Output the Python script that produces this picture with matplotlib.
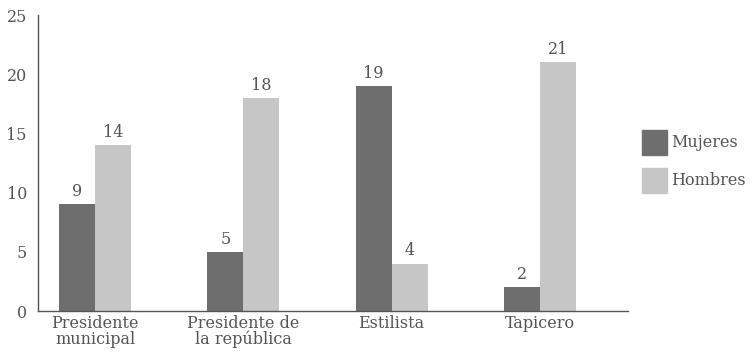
import matplotlib.pyplot as plt
from matplotlib.patches import Rectangle
import numpy as np

categories = ["Presidente\nmunicipal", "Presidente de\nla república", "Estilista", "Tapicero"]
mujeres = [9, 5, 19, 2]
hombres = [14, 18, 4, 21]
series_names = ["Mujeres", "Hombres"]
y_ticks = [0, 5, 10, 15, 20, 25]

DARK = "#6e6e6e"
LIGHT = "#c6c6c6"
TEXT = "#555555"

plt.rcParams["font.family"] = ["DejaVu Serif"]
FS = 11.5

W, H = 752, 356
fig = plt.figure(figsize=(W / 100, H / 100), dpi=100)
ax = fig.add_axes([38 / W, 45 / H, 590 / W, 296 / H])

x = np.arange(len(categories))
w = 0.243
b1 = ax.bar(x - w / 2, mujeres, w, color=DARK)
b2 = ax.bar(x + w / 2, hombres, w, color=LIGHT)

# value labels above each bar
for bars, vals in ((b1, mujeres), (b2, hombres)):
    for rect, v in zip(bars, vals):
        ax.annotate(str(v), (rect.get_x() + rect.get_width() / 2, v),
                    xytext=(0, 3), textcoords="offset points",
                    ha="center", va="bottom", fontsize=FS, color=TEXT)

ax.set_xlim(-0.385, 3.595)
ax.set_ylim(0, 25)
ax.set_yticks(y_ticks)
ax.set_xticks(x)
ax.set_xticklabels(categories, linespacing=0.9)
ax.tick_params(length=0, labelsize=FS, labelcolor=TEXT)
ax.tick_params(axis="y", pad=8)
ax.tick_params(axis="x", pad=3)

for s in ("top", "right"):
    ax.spines[s].set_visible(False)
for s in ("left", "bottom"):
    ax.spines[s].set_color("#555555")
    ax.spines[s].set_linewidth(1.0)

# legend: square swatches with labels, placed in pixel terms on the right
for i, (name, col) in enumerate(zip(series_names, (DARK, LIGHT))):
    top = 130 + i * 38
    fig.patches.append(Rectangle((642 / W, 1 - (top + 25) / H), 25 / W, 25 / H,
                                 transform=fig.transFigure, color=col))
    fig.text(671 / W, 1 - (top + 12.5) / H, name, ha="left", va="center",
             fontsize=FS, color=TEXT)

fig.savefig("out.png", dpi=100)
